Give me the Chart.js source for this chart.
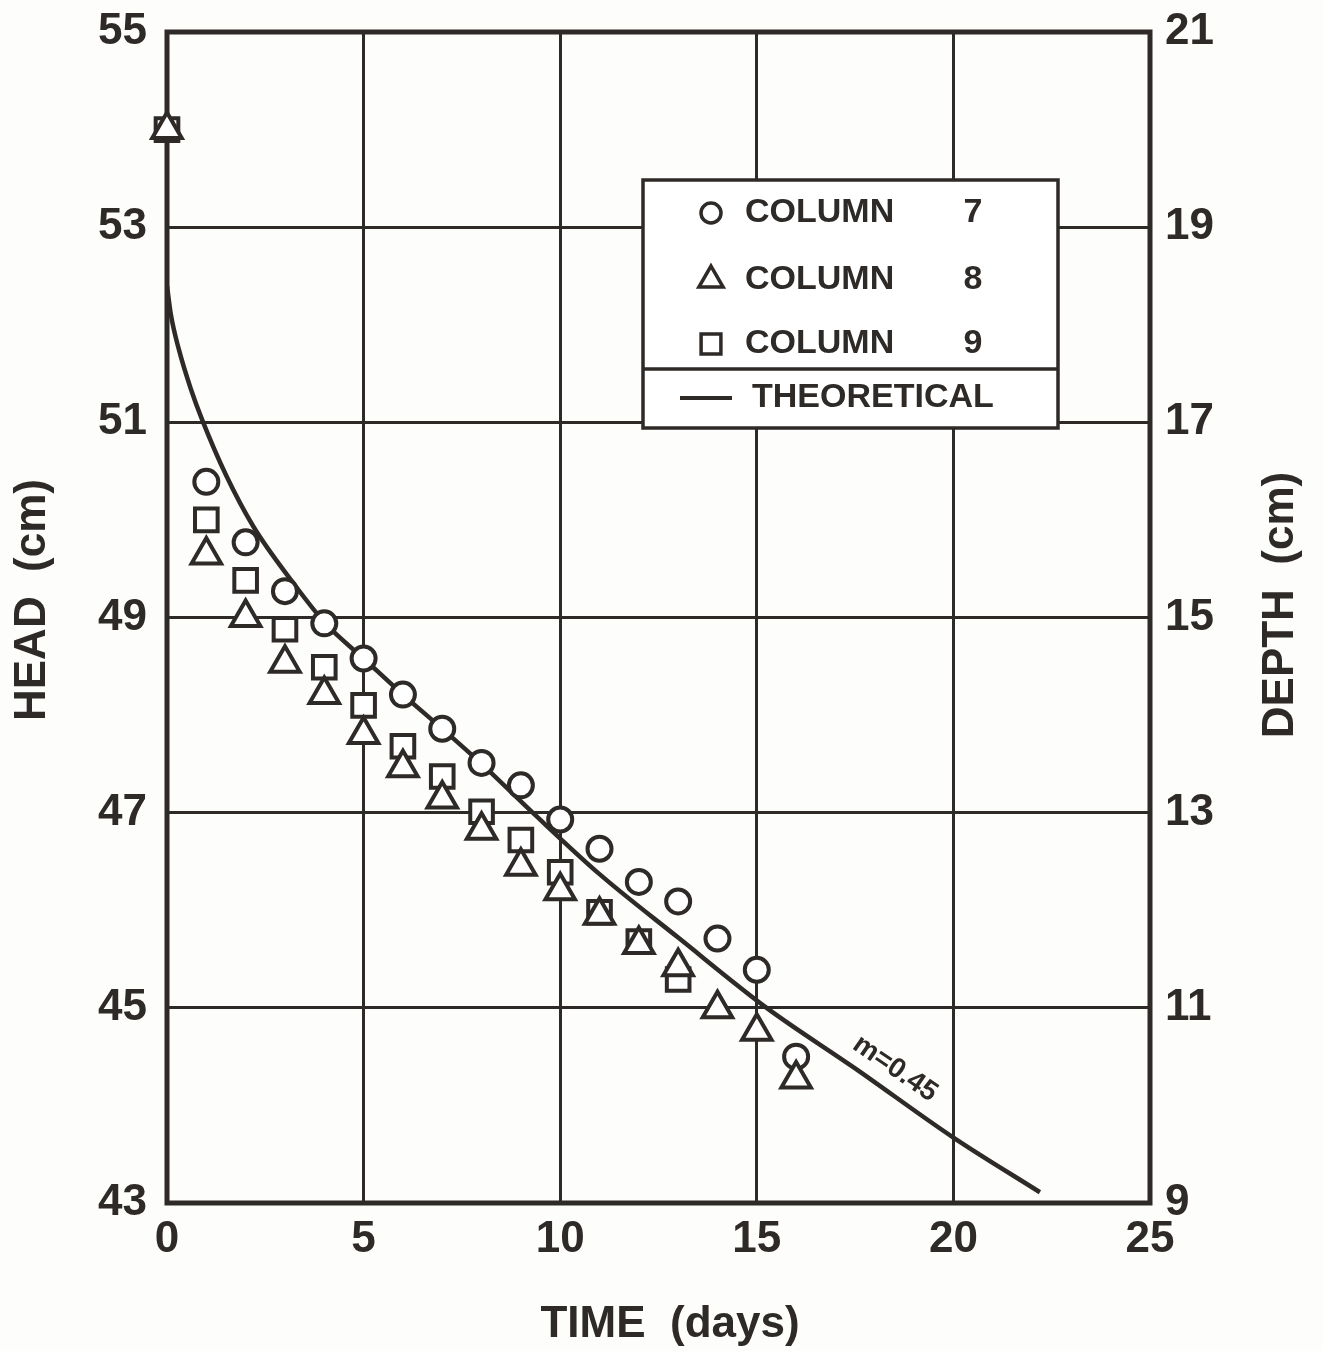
<!DOCTYPE html>
<html>
<head>
<meta charset="utf-8">
<script src="https://cdn.jsdelivr.net/npm/chart.js@4.4.0/dist/chart.umd.min.js"></script>
<style>
  html, body { margin: 0; padding: 0; background: #fdfdfb; }
  #wrap { width: 1323px; height: 1351px; }
</style>
</head>
<body>
<div id="wrap"><canvas id="c" width="1323" height="1351"></canvas></div>
<script>
// column 7 (circles)
const days7 = [1, 2, 3, 4, 5, 6, 7, 8, 9, 10, 11, 12, 13, 14, 15, 16];
const head7 = [50.39, 49.77, 49.27, 48.94, 48.58, 48.21, 47.86, 47.51, 47.28, 46.93, 46.63, 46.29, 46.09, 45.71, 45.39, 44.50];
// column 8 (triangles)
const days8 = [0, 1, 2, 3, 4, 5, 6, 7, 8, 9, 10, 11, 12, 13, 14, 15, 16];
const head8 = [54.0, 49.64, 49.0, 48.53, 48.21, 47.80, 47.46, 47.14, 46.82, 46.45, 46.20, 45.95, 45.65, 45.42, 44.99, 44.76, 44.27];
// column 9 (squares)
const days9 = [0, 1, 2, 3, 4, 5, 6, 7, 8, 9, 10, 11, 12, 13];
const head9 = [54.0, 50.0, 49.38, 48.88, 48.49, 48.10, 47.68, 47.37, 47.01, 46.72, 46.39, 45.98, 45.68, 45.29];
// theoretical curve, m = 0.45
const theoryDays = [0, 0.1, 0.3, 0.6, 0.9, 1.5, 2.2, 3.2, 4.05, 5, 6, 7, 8, 9.3, 11, 13, 15.25, 17.5, 20, 22.2];
const theoryHead = [52.40, 52.10, 51.75, 51.35, 51.02, 50.46, 49.93, 49.36, 48.93, 48.58, 48.21, 47.86, 47.50, 47.00, 46.37, 45.72, 45.00, 44.38, 43.67, 43.11];

// axis ranges
const timeRange = [0, 25, 5];
const headRange = [43, 55, 2];
const depthRange = [9, 21, 2];

const ink = '#2e2a27';
const fam = "'Liberation Sans', Arial, sans-serif";

function pts(xs, ys) {
  return xs.map((x, i) => ({ x: x, y: ys[i] }));
}

const decor = {
  id: 'decor',
  beforeDatasetsDraw(chart) {
    const { ctx, chartArea: a } = chart;
    ctx.save();
    ctx.strokeStyle = ink;
    ctx.lineWidth = 5;
    ctx.strokeRect(a.left, a.top, a.right - a.left, a.bottom - a.top);
    ctx.restore();
  },
  afterDatasetsDraw(chart) {
    const ctx = chart.ctx;
    const xs = chart.scales.x, ys = chart.scales.y;
    ctx.save();
    ctx.fillStyle = ink;
    ctx.strokeStyle = ink;

    // m=0.45 label along the curve
    const px = xs.getPixelForValue(18.2), py = ys.getPixelForValue(44.19);
    ctx.save();
    ctx.translate(px, py);
    ctx.rotate(34.5 * Math.PI / 180);
    ctx.font = 'bold 28px ' + fam;
    ctx.textAlign = 'center';
    ctx.textBaseline = 'middle';
    ctx.fillText('m=0.45', 0, -22);
    ctx.restore();

    // legend box
    ctx.fillStyle = '#ffffff';
    ctx.fillRect(643, 180, 415, 248);
    ctx.lineWidth = 3.5;
    ctx.strokeRect(643, 180, 415, 248);
    ctx.beginPath();
    ctx.moveTo(643, 369);
    ctx.lineTo(1058, 369);
    ctx.stroke();

    const rows = [
      { style: 'circle', r: 10, y: 213, num: '7' },
      { style: 'triangle', r: 14, y: 280, num: '8' },
      { style: 'rect', r: 14, y: 344, num: '9' }
    ];
    ctx.font = 'bold 34px ' + fam;
    ctx.textBaseline = 'middle';
    rows.forEach(row => {
      ctx.fillStyle = '#ffffff';
      ctx.strokeStyle = ink;
      ctx.lineWidth = 3.5;
      Chart.helpers.drawPoint(ctx, { pointStyle: row.style, radius: row.r, rotation: 0, borderWidth: 3.5 }, 711, row.y);
      ctx.fillStyle = ink;
      ctx.textAlign = 'left';
      ctx.fillText('COLUMN', 745, row.y);
      ctx.textAlign = 'center';
      ctx.fillText(row.num, 973, row.y);
    });
    ctx.lineWidth = 4;
    ctx.beginPath();
    ctx.moveTo(680, 398);
    ctx.lineTo(732, 398);
    ctx.stroke();
    ctx.textAlign = 'left';
    ctx.fillText('THEORETICAL', 752, 398);
    ctx.restore();
  },
  afterDraw(chart) {
    const ctx = chart.ctx;
    ctx.save();
    ctx.fillStyle = ink;
    ctx.font = 'bold 44px ' + fam;
    ctx.textAlign = 'center';
    ctx.textBaseline = 'middle';
    ctx.fillText('TIME  (days)', 670, 1325);
    ctx.translate(33, 600);
    ctx.rotate(-Math.PI / 2);
    ctx.fillText('HEAD  (cm)', 0, 0);
    ctx.restore();
    ctx.save();
    ctx.fillStyle = ink;
    ctx.font = 'bold 44px ' + fam;
    ctx.textAlign = 'center';
    ctx.textBaseline = 'middle';
    ctx.translate(1281, 605);
    ctx.rotate(-Math.PI / 2);
    ctx.fillText('DEPTH  (cm)', 0, 0);
    ctx.restore();
  }
};

const marker = {
  showLine: false,
  clip: false,
  borderColor: ink,
  backgroundColor: '#ffffff',
  pointBorderWidth: 4,
  pointBackgroundColor: '#ffffff',
  pointBorderColor: ink
};

new Chart(document.getElementById('c'), {
  type: 'scatter',
  data: {
    datasets: [
      Object.assign({ label: 'COLUMN 8', data: pts(days8, head8), pointStyle: 'triangle', pointRadius: 17 }, marker),
      Object.assign({ label: 'COLUMN 7', data: pts(days7, head7), pointStyle: 'circle', pointRadius: 12 }, marker),
      Object.assign({ label: 'COLUMN 9', data: pts(days9, head9), pointStyle: 'rect', pointRadius: 16 }, marker),
      {
        label: 'THEORETICAL',
        data: pts(theoryDays, theoryHead),
        showLine: true,
        borderColor: ink,
        borderWidth: 4.5,
        pointRadius: 0,
        cubicInterpolationMode: 'monotone',
        fill: false
      }
    ]
  },
  options: {
    responsive: false,
    animation: false,
    layout: { padding: { top: 32, left: 0, right: 0, bottom: 0 } },
    plugins: { legend: { display: false }, tooltip: { enabled: false } },
    scales: {
      x: {
        type: 'linear',
        position: 'bottom',
        min: timeRange[0], max: timeRange[1],
        ticks: { stepSize: timeRange[2], color: ink, padding: 10, font: { family: fam, size: 44, weight: 'bold' } },
        grid: { color: ink, lineWidth: 3, drawTicks: false },
        border: { display: false },
        afterFit(s) { s.height = 148; s.paddingLeft = 0; s.paddingRight = 0; }
      },
      y: {
        position: 'left',
        min: headRange[0], max: headRange[1],
        ticks: { stepSize: headRange[2], color: ink, padding: 20, font: { family: fam, size: 44, weight: 'bold' } },
        grid: { color: ink, lineWidth: 3, drawTicks: false },
        border: { display: false },
        afterFit(s) { s.width = 167; s.paddingTop = 0; s.paddingBottom = 0; }
      },
      y2: {
        position: 'right',
        min: depthRange[0], max: depthRange[1],
        ticks: { stepSize: depthRange[2], color: ink, padding: 15, font: { family: fam, size: 44, weight: 'bold' } },
        grid: { display: false, drawTicks: false },
        border: { display: false },
        afterFit(s) { s.width = 173; s.paddingTop = 0; s.paddingBottom = 0; }
      }
    }
  },
  plugins: [decor]
});
</script>
</body>
</html>
